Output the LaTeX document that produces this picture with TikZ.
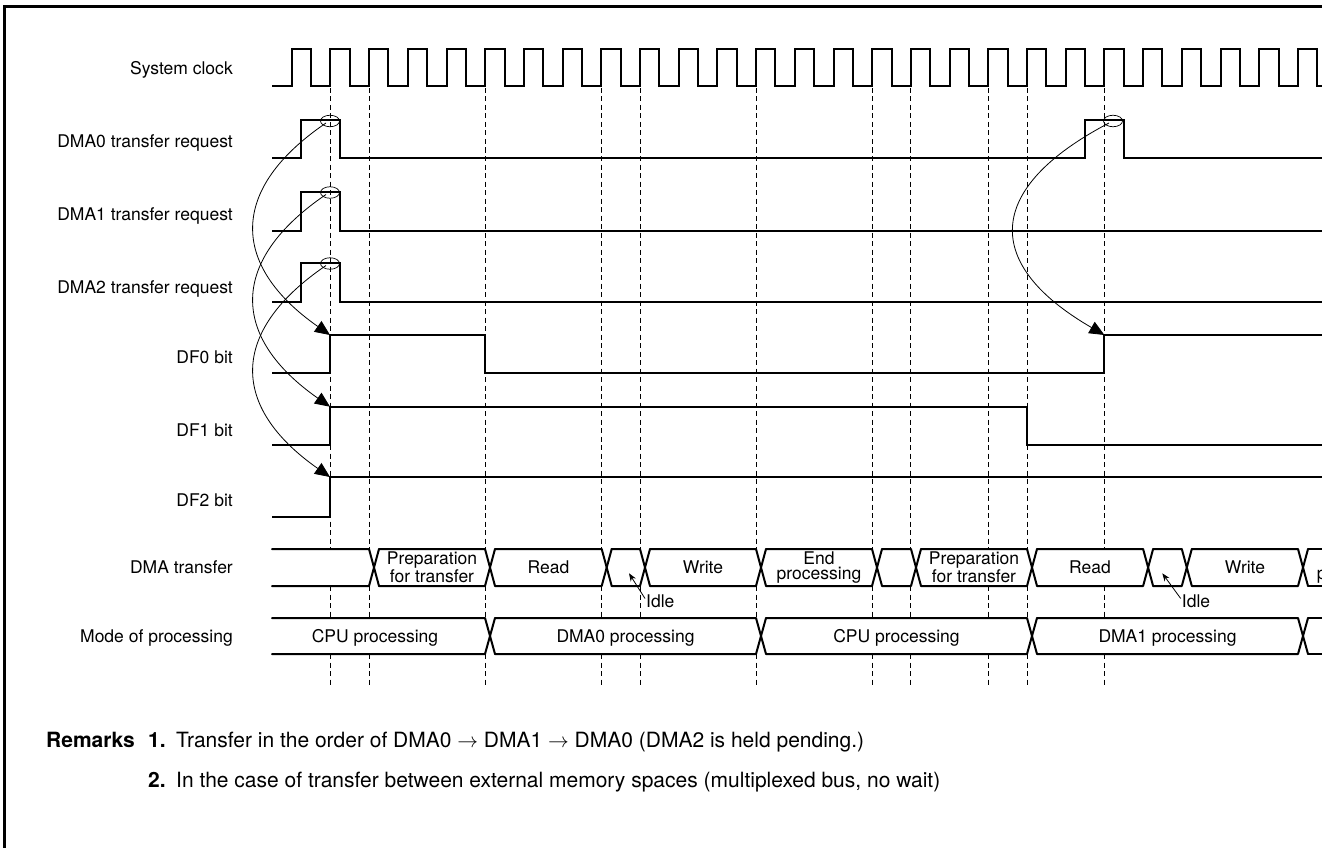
\documentclass[tikz,border=0pt]{standalone}
\usepackage{fontspec}
\setmainfont{TeX Gyre Heros}
\usetikzlibrary{arrows.meta,shapes.geometric}
\begin{document}
\begin{tikzpicture}[x=1pt,y=-1pt,
  sig/.style={line width=2pt, line join=miter},
  bus/.style={line width=2pt, line cap=round, line join=round},
  vline/.style={line width=0.9pt, dash pattern=on 5pt off 3.5pt},
  lbl/.style={anchor=east, inner sep=0pt, text height=12.6pt, text depth=0pt, font=\fontsize{17.5}{18}\selectfont},
  bt/.style={inner sep=0pt, text height=12.6pt, text depth=0pt, font=\fontsize{17.5}{18}\selectfont},
  bttwo/.style={inner sep=0pt, align=center, font=\fontsize{17.5}{15.5}\selectfont},
  ring/.style={draw, ellipse, line width=0.7pt, minimum width=19pt, minimum height=11.5pt, inner sep=0pt},
  cause/.style={line width=0.8pt, -{Triangle[length=15pt,width=13pt]}},
  idlearrow/.style={line width=0.8pt, -{Stealth[length=8pt,width=6pt]}},
  rem/.style={anchor=base west, inner sep=0pt, font=\fontsize{21}{24}\selectfont},
]
\useasboundingbox (0,0) rectangle (1322,848);
\clip (0,0) rectangle (1322,848);

% frame (left and top)
\draw[line width=3pt] (4,848) -- (4,7) -- (1322,7);

% dashed timing guides
\foreach \k in {1,2,5,8,9,12,15,16,18,19,21} {
  \draw[vline] ({291.7+38.7*\k},88) -- ({291.7+38.7*\k},549);
  \draw[vline] ({291.7+38.7*\k},586) -- ({291.7+38.7*\k},618);
  \draw[vline] ({291.7+38.7*\k},654) -- ({291.7+38.7*\k},687);
}

% labels
\node[lbl] (lclk) at (233,68) {System clock};
\node[lbl] (lr0) at (233,141) {DMA0 transfer request};
\node[lbl] (lr1) at (233,214) {DMA1 transfer request};
\node[lbl] (lr2) at (233,287) {DMA2 transfer request};
\node[lbl] (ldf0) at (233,357) {DF0 bit};
\node[lbl] (ldf1) at (233,430) {DF1 bit};
\node[lbl] (ldf2) at (233,500) {DF2 bit};
\node[lbl] (ldma) at (233,567.5) {DMA transfer};
\node[lbl] (lmode) at (233,636) {Mode of processing};

% system clock
\draw[sig] (272,86) foreach \k in {0,...,26} {
  -- ({291.7+38.7*\k},86) -- ++(0,-37) -- ++(19.35,0) -- ++(0,37) } -- (1330,86);

% transfer requests
\draw[sig] (272,158) -- (300.7,158) -- (300.7,120) -- (340,120) -- (340,158)
  -- (1085,158) -- (1085,120) -- (1123.6,120) -- (1123.6,158) -- (1330,158);
\draw[sig] (272,230.7) -- (300.7,230.7) -- (300.7,192) -- (340,192) -- (340,230.7) -- (1330,230.7);
\draw[sig] (272,301.7) -- (300.7,301.7) -- (300.7,263) -- (340,263) -- (340,301.7) -- (1330,301.7);

% DF bits
\draw[sig] (272,373) -- (330,373) -- (330,335) -- (485,335) -- (485,373)
  -- (1104.4,373) -- (1104.4,335) -- (1330,335);
\draw[sig] (272,445) -- (330,445) -- (330,406.7) -- (1027,406.7) -- (1027,445) -- (1330,445);
\draw[sig] (272,517) -- (330,517) -- (330,477) -- (1330,477);

% rings and causal arrows
\node[ring] (e0) at (330,121) {};
\node[ring] (e1) at (330,192.5) {};
\node[ring] (e2) at (330,263.5) {};
\node[ring] (e3) at (1113,121) {};
\coordinate (d0) at (330,335);
\coordinate (d1) at (330,406.7);
\coordinate (d2) at (330,477);
\coordinate (d3) at (1104.4,335);
\draw[cause] ([shift={(-4,2)}]e0.center) .. controls +(-97,66) and +(-100,-70) .. (d0);
\draw[cause] ([shift={(-4,2)}]e1.center) .. controls +(-97,66) and +(-100,-70) .. (d1);
\draw[cause] ([shift={(-4,2)}]e2.center) .. controls +(-97,66) and +(-100,-70) .. (d2);
\draw[cause] ([shift={(-4,2)}]e3.center) .. controls +(-126,66) and +(-121,-70) .. (d3);

% DMA transfer bus
\foreach \a/\b in {262/369, 369/485, 485/601.7, 601.7/640, 640/756, 756/872, 872/911, 911/1027, 1027/1143.1, 1143.1/1181.8, 1181.8/1298} {
  \draw[bus] ({\a+10},549) -- (\b,549) -- ({\b+10},586);
  \draw[bus] ({\a+10},586) -- (\b,586) -- ({\b+10},549);
}
\draw[bus] (1308,549) -- (1330,549);
\draw[bus] (1308,586) -- (1330,586);

\node[bttwo] (prep1) at (432,567.5) {Preparation\\for transfer};
\node[bt] (read1) at (548.4,567.5) {Read};
\node[bt] (write1) at (703,567.5) {Write};
\node[bttwo] (end1) at (819,567.5) {End\\processing};
\node[bttwo] (prep2) at (974,567.5) {Preparation\\for transfer};
\node[bt] (read2) at (1090,567.5) {Read};
\node[bt] (write2) at (1245,567.5) {Write};
\node[bttwo] (end2) at (1359,567.5) {End\\processing};

% idle markers
\node[bt, anchor=west] (idle1) at (646,601.5) {Idle};
\node[bt, anchor=west] (idle2) at (1181.7,601.5) {Idle};
\coordinate (i1) at (629,573.3);
\coordinate (i2) at (1162.3,573.3);
\draw[idlearrow] ([shift={(-1,-3)}]idle1.west) -- (i1);
\draw[idlearrow] ([shift={(-1,-3)}]idle2.west) -- (i2);

% mode of processing bus
\foreach \a/\b in {262/485, 485/756, 756/1027, 1027/1298} {
  \draw[bus] ({\a+10},618) -- (\b,618) -- ({\b+10},654);
  \draw[bus] ({\a+10},654) -- (\b,654) -- ({\b+10},618);
}
\draw[bus] (1308,618) -- (1330,618);
\draw[bus] (1308,654) -- (1330,654);

\node[bt] (m1) at (375,636) {CPU processing};
\node[bt] (m2) at (625.5,636) {DMA0 processing};
\node[bt] (m3) at (896.5,636) {CPU processing};
\node[bt] (m4) at (1167.5,636) {DMA1 processing};

% remarks
\node[rem] (rk) at (46,747) {\bfseries Remarks};
\node[rem] (rn1) at (148,747) {\bfseries 1.};
\node[rem] (rt1) at (176,747) {Transfer in the order of DMA0 $\rightarrow$ DMA1 $\rightarrow$ DMA0 (DMA2 is held pending.)};
\node[rem] (rn2) at (148,787) {\bfseries 2.};
\node[rem] (rt2) at (176,787) {In the case of transfer between external memory spaces (multiplexed bus, no wait)};
\end{tikzpicture}
\end{document}
